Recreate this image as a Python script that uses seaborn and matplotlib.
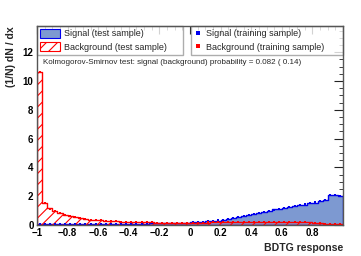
import numpy as np
import pandas as pd
import matplotlib
matplotlib.use("Agg")
import matplotlib.pyplot as plt
import seaborn as sns
from matplotlib.patches import Patch
from matplotlib.lines import Line2D
from matplotlib.ticker import MultipleLocator, FixedLocator

sns.set_theme(style="white")
plt.rcParams["font.family"] = ["Liberation Sans", "DejaVu Sans"]
plt.rcParams["hatch.color"] = "red"
plt.rcParams["hatch.linewidth"] = 0.8

# ---- data (60 bins on [-1, 1]) ----
n_bins = 60
x_min, x_max = -1.0, 1.0

sig_test = [0.05, 0.05, 0.05, 0.05, 0.06, 0.06, 0.06, 0.06, 0.07, 0.07,
            0.07, 0.07, 0.08, 0.08, 0.08, 0.08, 0.09, 0.09, 0.09, 0.10,
            0.10, 0.10, 0.11, 0.11, 0.12, 0.12, 0.13, 0.14, 0.15, 0.16,
            0.18, 0.20, 0.22, 0.25, 0.28, 0.31, 0.36, 0.42, 0.48, 0.54,
            0.60, 0.68, 0.76, 0.84, 0.92, 1.00, 1.08, 1.14, 1.20, 1.26,
            1.30, 1.36, 1.42, 1.50, 1.56, 1.64, 1.72, 2.08, 2.06, 2.04]

bkg_test = [10.6, 1.55, 1.15, 0.95, 0.80, 0.70, 0.60, 0.55, 0.48, 0.42,
            0.38, 0.35, 0.32, 0.30, 0.27, 0.25, 0.24, 0.22, 0.21, 0.20,
            0.20, 0.18, 0.18, 0.17, 0.17, 0.17, 0.16, 0.16, 0.16, 0.16,
            0.16, 0.17, 0.17, 0.17, 0.18, 0.18, 0.18, 0.19, 0.19, 0.19,
            0.20, 0.20, 0.20, 0.21, 0.21, 0.21, 0.21, 0.20, 0.20, 0.20,
            0.19, 0.19, 0.18, 0.18, 0.15, 0.12, 0.10, 0.08, 0.06, 0.05]

sig_train = [0.05, 0.05, 0.06, 0.05, 0.06, 0.06, 0.07, 0.06, 0.07, 0.07,
             0.07, 0.08, 0.08, 0.08, 0.08, 0.09, 0.09, 0.09, 0.10, 0.10,
             0.10, 0.11, 0.11, 0.12, 0.12, 0.13, 0.13, 0.14, 0.15, 0.17,
             0.18, 0.20, 0.23, 0.25, 0.28, 0.32, 0.36, 0.42, 0.48, 0.55,
             0.61, 0.68, 0.76, 0.84, 0.92, 1.00, 1.07, 1.14, 1.20, 1.26,
             1.31, 1.36, 1.43, 1.50, 1.57, 1.64, 1.73, 2.07, 2.06, 2.03]

bkg_train = [10.6, 1.56, 1.14, 0.95, 0.81, 0.70, 0.61, 0.54, 0.48, 0.43,
             0.38, 0.35, 0.32, 0.29, 0.27, 0.25, 0.24, 0.22, 0.21, 0.20,
             0.19, 0.18, 0.18, 0.17, 0.17, 0.16, 0.16, 0.16, 0.16, 0.16,
             0.16, 0.17, 0.17, 0.18, 0.18, 0.18, 0.19, 0.19, 0.19, 0.20,
             0.20, 0.20, 0.21, 0.21, 0.21, 0.21, 0.20, 0.20, 0.20, 0.19,
             0.19, 0.19, 0.18, 0.17, 0.15, 0.12, 0.10, 0.08, 0.06, 0.05]

x_tick_values = [-1.0, -0.8, -0.6, -0.4, -0.2, 0.0, 0.2, 0.4, 0.6, 0.8]
x_tick_labels = ["\u22121", "\u22120.8", "\u22120.6", "\u22120.4", "\u22120.2",
                 "0", "0.2", "0.4", "0.6", "0.8"]
y_tick_values = [0, 2, 4, 6, 8, 10, 12]

ks_text = "Kolmogorov-Smirnov test: signal (background) probability = 0.082 ( 0.14)"
legend_test = ["Signal (test sample)", "Background (test sample)"]
legend_train = ["Signal (training sample)", "Background (training sample)"]

edges = np.linspace(x_min, x_max, n_bins + 1)
centers = 0.5 * (edges[:-1] + edges[1:])
df = pd.DataFrame({"x": centers, "sig": sig_test, "bkg": bkg_test,
                   "sig_tr": sig_train, "bkg_tr": bkg_train})

sig_fill = "#7d99d1"
sig_line = "#0000ee"
bkg_line = "#ff0000"

# ---- figure ----
W, H = 361, 256
fig = plt.figure(figsize=(W / 100, H / 100), dpi=100)
ax_l, ax_r, ax_t, ax_b = 37, 343, 26, 225
ax = fig.add_axes([ax_l / W, 1 - ax_b / H, (ax_r - ax_l) / W, (ax_b - ax_t) / H])
ax.set_facecolor("white")

sns.histplot(data=df, x="x", weights="sig", bins=n_bins, binrange=(x_min, x_max),
             element="step", fill=True, color=sig_line, facecolor=sig_fill,
             edgecolor=sig_line, linewidth=1.0, alpha=1, ax=ax)
sns.histplot(data=df, x="x", weights="bkg", bins=n_bins, binrange=(x_min, x_max),
             element="step", fill=True, color=bkg_line, facecolor="none",
             edgecolor=bkg_line, hatch="///", linewidth=1.0, ax=ax)

ax.errorbar(df["x"], df["sig_tr"], fmt="s", ms=2.1, color=sig_line, mew=0, zorder=2)
ax.errorbar(df["x"], df["bkg_tr"], fmt="s", ms=2.1, color=bkg_line, mew=0, zorder=2)

ax.set_xlim(x_min, x_max)
ax.set_ylim(0, 13.82)

ax.xaxis.set_major_locator(FixedLocator(x_tick_values))
ax.set_xticklabels(x_tick_labels)
ax.xaxis.set_minor_locator(MultipleLocator(0.05))
ax.yaxis.set_major_locator(FixedLocator(y_tick_values))
ax.yaxis.set_minor_locator(MultipleLocator(0.5))

ax.tick_params(axis="both", which="both", direction="in", top=True, right=True,
               colors="#222222", labelcolor="black")
ax.tick_params(axis="x", which="major", length=5.5, width=0.8, pad=2.5, labelsize=7)
ax.tick_params(axis="x", which="minor", length=2.8, width=0.6)
ax.tick_params(axis="y", which="major", length=6.5, width=0.8, pad=2.5, labelsize=7)
ax.tick_params(axis="y", which="minor", length=3.2, width=0.6)
for lab in ax.get_xticklabels() + ax.get_yticklabels():
    lab.set_fontweight("bold")

for sp in ax.spines.values():
    sp.set_color("#555555")
    sp.set_linewidth(1.0)
    sp.set_zorder(3)

ax.set_xlabel("BDTG response", fontsize=7.6, fontweight="bold", ha="right")
ax.xaxis.set_label_coords(1.0, -(248 - ax_b) / (ax_b - ax_t), transform=ax.transAxes)
ax.xaxis.label.set_va("center")
ax.set_ylabel("(1/N) dN / dx", fontsize=7.6, fontweight="bold", ha="right")
ax.yaxis.set_label_coords(-(ax_l - 11) / (ax_r - ax_l), 1.0, transform=ax.transAxes)
ax.yaxis.label.set_va("center")

# ---- legends ----
leg_fs = 6.5
h_test = [Patch(facecolor=sig_fill, edgecolor=sig_line, linewidth=0.8),
          Patch(facecolor="white", edgecolor=bkg_line, hatch="///", linewidth=0.8)]
leg1 = ax.legend(h_test, legend_test, loc="upper left",
                 bbox_to_anchor=(0.0, 0.0, (183 - ax_l) / (ax_r - ax_l), 1.0),
                 mode="expand", borderaxespad=0, fontsize=leg_fs, frameon=True,
                 fancybox=False, handlelength=2.3, handleheight=1.2,
                 handletextpad=0.4, labelspacing=0.42, borderpad=0.3)
leg1.get_frame().set_edgecolor("#999999")
leg1.get_frame().set_linewidth(1.0)
leg1.set_zorder(2.2)
ax.add_artist(leg1)

h_train = [Line2D([], [], ls="none", marker="s", ms=2.2, color=sig_line, mew=0),
           Line2D([], [], ls="none", marker="s", ms=2.2, color=bkg_line, mew=0)]
leg2 = ax.legend(h_train, legend_train, loc="upper left",
                 bbox_to_anchor=((191 - ax_l) / (ax_r - ax_l), 0.0,
                                 (ax_r - 191) / (ax_r - ax_l), 1.0),
                 mode="expand", borderaxespad=0, fontsize=leg_fs, frameon=True,
                 fancybox=False, handlelength=0.9, handleheight=1.2,
                 handletextpad=0.5, labelspacing=0.42, borderpad=0.3)
leg2.get_frame().set_edgecolor("#999999")
leg2.get_frame().set_linewidth(1.0)
leg2.set_zorder(2.2)

ax.text((43 - ax_l) / (ax_r - ax_l), (ax_b - 63) / (ax_b - ax_t), ks_text,
        transform=ax.transAxes, fontsize=5.8, va="center", ha="left")

fig.savefig("out.png", dpi=100)
